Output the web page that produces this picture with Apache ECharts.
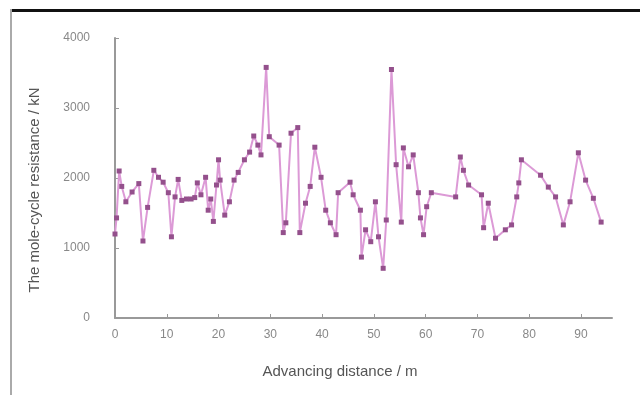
<!DOCTYPE html>
<html>
<head>
<meta charset="utf-8">
<script src="https://cdn.jsdelivr.net/npm/echarts@6/dist/echarts.min.js"></script>
<style>html,body{margin:0;padding:0;background:#fff;}#c{width:640px;height:395px;}</style>
</head>
<body>
<div id="c"></div>
<script>
// Advancing distance (m)
var distance = [0,0.3,0.8,1.3,2.1,3.3,4.6,5.4,6.3,7.5,8.4,9.3,10.3,10.9,11.6,12.2,12.9,13.8,14.7,15.4,15.9,16.6,17.5,18.0,18.5,19.0,19.6,20.0,20.3,21.2,22.1,23.0,23.8,25.0,26.0,26.8,27.6,28.2,29.2,29.8,31.7,32.5,33.0,34.0,35.3,35.7,36.8,37.7,38.6,39.8,40.7,41.6,42.7,43.1,45.4,46.0,47.4,47.6,48.4,49.4,50.3,50.9,51.8,52.4,53.4,54.3,55.3,55.7,56.7,57.6,58.6,59.0,59.6,60.2,61.1,65.8,66.7,67.3,68.3,70.8,71.2,72.1,73.5,75.4,76.6,77.6,78.0,78.5,82.2,83.7,85.1,86.6,87.9,89.5,90.9,92.4,93.9];
// Resistance (kN)
var resistance = [1200,1430,2100,1880,1660,1800,1920,1100,1580,2110,2010,1940,1790,1160,1730,1980,1680,1700,1700,1720,1930,1760,2010,1540,1700,1380,1900,2260,1970,1470,1660,1970,2080,2260,2370,2600,2470,2330,3580,2590,2470,1220,1360,2640,2720,1220,1640,1880,2440,2010,1540,1360,1190,1790,1940,1760,1540,870,1260,1090,1660,1160,710,1400,3550,2190,1370,2430,2160,2330,1790,1430,1190,1590,1790,1730,2300,2110,1900,1760,1290,1640,1140,1260,1330,1730,1930,2260,2040,1870,1730,1330,1660,2360,1970,1710,1370];
var xTicks = [0,10,20,30,40,50,60,70,80,90];
var yTicks = [0,1000,2000,3000,4000];
var xTitle = 'Advancing distance / m';
var yTitle = 'The mole-cycle resistance / kN';

var pts = distance.map(function(d,i){return [d, resistance[i]];});
var chart = echarts.init(document.getElementById('c'), null, {renderer:'canvas'});
var ax = {color:'#999', width:2};
chart.setOption({
  backgroundColor:'#fff',
  animation:false,
  grid:{left:115, right:28, top:38, bottom:77},
  xAxis:{
    type:'value', min:0, max:96, interval:10,
    axisLine:{show:true, lineStyle:ax},
    axisTick:{show:true, inside:true, length:4, lineStyle:{color:'#999'}},
    axisLabel:{color:'#888', fontSize:12, margin:11, fontFamily:'Liberation Sans', showMaxLabel:false,
      formatter:function(v){return xTicks.indexOf(v)>=0 ? String(v) : '';}},
    splitLine:{show:false}
  },
  yAxis:{
    type:'value', min:0, max:4000, interval:1000,
    axisLine:{show:true, lineStyle:ax},
    axisTick:{show:true, inside:true, length:4, lineStyle:{color:'#999'}},
    axisLabel:{color:'#888', fontSize:12, margin:25, fontFamily:'Liberation Sans',
      formatter:function(v){return yTicks.indexOf(v)>=0 ? String(v) : '';}},
    splitLine:{show:false}
  },
  series:[{
    type:'line', data:pts,
    lineStyle:{color:'#dc9ad6', width:2},
    symbol:'rect', symbolSize:5,
    itemStyle:{color:'#94508c'}
  }],
  graphic:[
    {type:'rect', shape:{x:10, y:9, width:630, height:3}, style:{fill:'#111'}},
    {type:'rect', shape:{x:10, y:9, width:2, height:386}, style:{fill:'#aaa'}},
    {type:'text', x:340, y:372, style:{text:xTitle, fill:'#555', font:'15px "Liberation Sans"', textAlign:'center', textVerticalAlign:'middle'}},
    {type:'text', x:35, y:190, rotation:Math.PI/2, style:{text:yTitle, fill:'#555', font:'15px "Liberation Sans"', textAlign:'center', textVerticalAlign:'middle'}}
  ]
});
</script>
</body>
</html>
